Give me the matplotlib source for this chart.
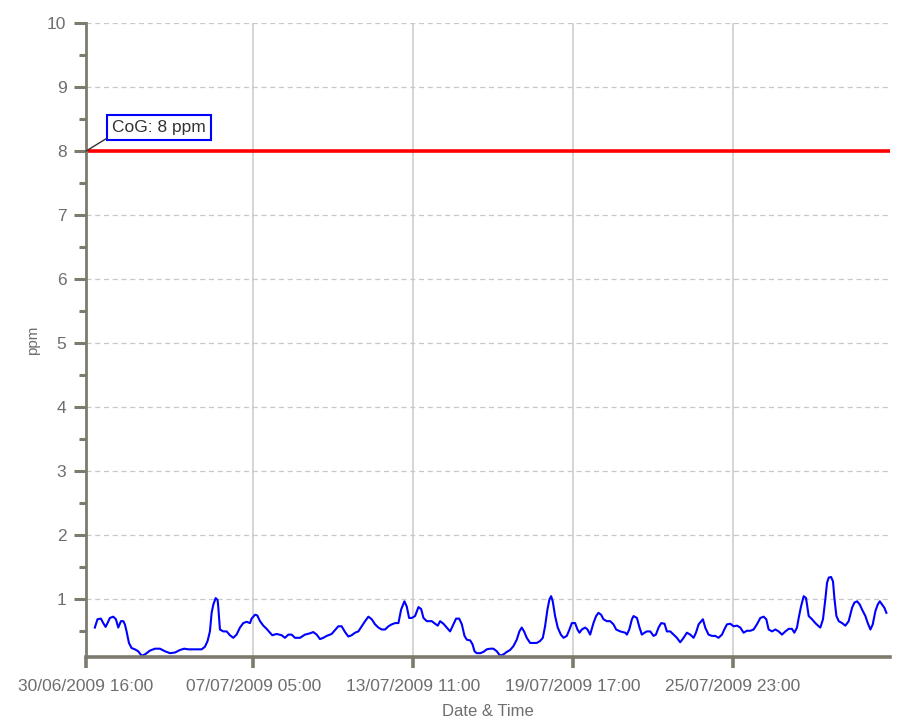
# -*- coding: utf-8 -*-

from datetime import datetime, timedelta
import matplotlib
matplotlib.use('Agg')
import matplotlib.pyplot as plt
import matplotlib.dates as mdates
from matplotlib.ticker import MultipleLocator, FixedLocator

plt.rcParams['font.family'] = ['Liberation Sans', 'DejaVu Sans']

# 数据：起始时间后的小时数 与 CO 浓度(ppm)
start = datetime(2009, 6, 30, 16, 0)
hours = [
    8.4, 10.9, 14.1, 16.3, 18.5, 20.3, 22.5, 25.7, 28.2, 30.4, 32.9, 35.1, 36.6, 38.2,
    40.4, 42.9, 46.0, 49.1, 52.3, 55.4, 60.1, 64.8, 69.5, 74.2, 78.9, 83.6, 88.3, 92.3,
    96.1, 102.3, 108.6, 111.7, 114.2, 116.4, 118.0, 119.6, 121.8, 123.6, 124.2,
    125.8, 128.9, 132.1, 135.2, 138.3, 141.4, 144.6, 147.7, 150.8, 154.0, 155.5, 158.7,
    160.8, 163.4, 166.5, 169.6, 172.8, 174.9, 179.0, 183.7, 186.8, 190.0, 193.1, 196.2,
    200.9, 205.6, 210.3, 213.4, 216.6, 219.7, 222.8, 226.0, 230.6, 233.8, 236.9, 240.0,
    243.2, 246.3, 249.4,
    252.6, 255.7, 258.9, 262.0, 265.1, 268.2, 271.4, 274.5, 277.6, 280.8, 283.9, 287.0,
    290.2, 293.3, 295.8, 298.9, 301.1, 303.3, 305.8, 308.9, 312.1, 314.6, 316.8, 319.9,
    324.6, 327.7, 330.2, 332.4, 335.5, 338.7, 341.8, 344.9, 347.4, 350.3, 352.8, 355.3,
    357.5, 360.6, 362.8, 364.7, 366.8, 370.0, 373.1, 376.2,
    379.3, 382.4, 385.6, 388.7, 391.8, 395.0, 398.1, 401.2, 404.3, 406.8, 409.0, 411.2,
    413.7, 416.9, 420.0, 423.1, 426.2, 428.8, 430.9, 433.1, 435.0, 436.6, 438.1, 440.3,
    442.8, 445.7, 448.2, 451.3, 453.8, 456.0, 459.1, 461.3, 463.2, 465.4, 468.5, 470.7,
    473.2, 476.3, 478.8, 481.0, 483.5, 485.7, 488.8, 492.0, 495.1, 497.6, 501.4,
    506.1, 507.7, 509.9, 512.4, 513.9, 517.1, 519.2, 521.7, 524.3, 526.4, 529.6, 532.7,
    534.9, 537.4, 539.9, 543.0, 545.2, 548.4, 551.5, 554.6, 557.7, 560.9, 564.0, 567.1,
    570.3, 572.5, 575.0, 577.5, 579.0, 581.2, 584.3, 587.5, 590.6, 593.7, 596.9, 599.1,
    601.6, 604.7, 607.8, 611.0, 614.1, 617.2, 620.3, 623.5, 626.6, 629.7,
    632.9, 636.0, 638.5, 640.7, 643.9, 647.0, 650.1, 653.2, 656.4, 659.5, 662.6, 664.8,
    667.3, 668.9, 671.1, 673.6, 675.8, 678.3, 681.4, 684.5, 687.7, 689.2, 691.7, 693.9,
    695.5, 697.1, 699.3, 701.1, 702.4, 704.3, 706.5, 709.6, 712.7, 715.8, 719.0, 721.2,
    723.7, 726.2, 728.4, 731.5, 733.7, 736.2, 738.4, 740.9, 743.1, 745.0, 747.2, 749.3,
    751.2,
]
ppm = [
    0.56, 0.69, 0.70, 0.63, 0.57, 0.63, 0.71, 0.73, 0.69, 0.56, 0.66, 0.66, 0.61, 0.50,
    0.32, 0.24, 0.22, 0.19, 0.12, 0.14, 0.20, 0.23, 0.23, 0.19, 0.16, 0.17, 0.21, 0.23,
    0.22, 0.22, 0.22, 0.26, 0.35, 0.50, 0.79, 0.92, 1.02, 0.99, 0.89,
    0.53, 0.50, 0.50, 0.44, 0.40, 0.45, 0.56, 0.63, 0.65, 0.63, 0.70, 0.76,
    0.75, 0.66, 0.59, 0.54, 0.48, 0.44, 0.46, 0.44, 0.40, 0.45, 0.45, 0.40,
    0.40, 0.45, 0.47, 0.49, 0.45, 0.38, 0.40, 0.43, 0.46, 0.52, 0.58, 0.58,
    0.49, 0.42, 0.44,
    0.48, 0.50, 0.58, 0.66, 0.73, 0.69, 0.61, 0.56, 0.53, 0.53, 0.58, 0.61,
    0.63, 0.63, 0.84, 0.97, 0.89, 0.71, 0.71, 0.74, 0.88, 0.85, 0.71, 0.66,
    0.66, 0.62, 0.59, 0.66, 0.62, 0.56, 0.50, 0.61, 0.70, 0.70, 0.61, 0.43,
    0.37, 0.36, 0.30, 0.19, 0.16, 0.16, 0.18, 0.22,
    0.23, 0.23, 0.19, 0.12, 0.14, 0.18, 0.21, 0.27, 0.37, 0.50, 0.56, 0.50,
    0.40, 0.32, 0.32, 0.32, 0.35, 0.40, 0.58, 0.84, 1.00, 1.05, 0.97, 0.74,
    0.56, 0.45, 0.40, 0.43, 0.53, 0.63, 0.63, 0.53, 0.48, 0.53, 0.56, 0.53,
    0.45, 0.63, 0.74, 0.79, 0.76, 0.69, 0.66, 0.66, 0.61, 0.53, 0.50,
    0.48, 0.45, 0.53, 0.69, 0.74, 0.71, 0.58, 0.45, 0.48, 0.50, 0.50, 0.43,
    0.45, 0.56, 0.63, 0.62, 0.50, 0.50, 0.45, 0.40, 0.33, 0.40, 0.48, 0.45,
    0.40, 0.48, 0.61, 0.66, 0.69, 0.56, 0.45, 0.43, 0.43, 0.40, 0.45, 0.53,
    0.61, 0.62, 0.58, 0.59, 0.56, 0.48, 0.51, 0.51, 0.53, 0.61,
    0.71, 0.73, 0.69, 0.53, 0.50, 0.53, 0.50, 0.45, 0.50, 0.54, 0.54, 0.48,
    0.56, 0.71, 0.89, 1.05, 1.02, 0.74, 0.69, 0.63, 0.58, 0.56, 0.69, 1.00,
    1.26, 1.34, 1.35, 1.28, 1.02, 0.74, 0.66, 0.63, 0.59, 0.66, 0.87, 0.95,
    0.97, 0.92, 0.84, 0.74, 0.63, 0.53, 0.61, 0.82, 0.92, 0.97, 0.92, 0.87,
    0.79,
]

tick_labels = ['30/06/2009 16:00', '07/07/2009 05:00', '13/07/2009 11:00',
               '19/07/2009 17:00', '25/07/2009 23:00']
end_hours = 755
limit_value = 8
limit_label = 'CoG: 8 ppm'

axis_color = '#7d7a6e'
text_color = '#6e6e6e'

times = [start + timedelta(hours=h) for h in hours]
tick_times = [datetime.strptime(s, '%d/%m/%Y %H:%M') for s in tick_labels]

fig = plt.figure(figsize=(9.04, 7.22), dpi=100, facecolor='white')
ax = fig.add_axes([0.095, 0.09, 0.89, 0.878])

ax.plot(times, ppm, color='#0000ff', linewidth=1.5, zorder=3)
ax.axhline(limit_value, color='#ff0000', linewidth=2.6, zorder=3)

ax.set_xlim(start, start + timedelta(hours=end_hours))
ax.set_ylim(0.1, 10)

# 坐标轴与刻度
ax.xaxis.set_major_locator(FixedLocator(mdates.date2num(tick_times)))
ax.xaxis.set_major_formatter(mdates.DateFormatter('%d/%m/%Y %H:%M'))
ax.yaxis.set_major_locator(MultipleLocator(1))
ax.yaxis.set_minor_locator(MultipleLocator(0.5))

for side in ['top', 'right']:
    ax.spines[side].set_visible(False)
ax.spines['left'].set_color(axis_color)
ax.spines['left'].set_linewidth(2)
ax.spines['bottom'].set_color(axis_color)
ax.spines['bottom'].set_linewidth(2.6)
ax.spines['left'].set_zorder(5)
ax.spines['bottom'].set_zorder(5)

ax.tick_params(axis='y', which='major', length=9, width=2.2, color=axis_color,
               labelcolor=text_color, labelsize=12.5, pad=5)
ax.tick_params(axis='y', which='minor', length=5, width=2.2, color=axis_color)
ax.tick_params(axis='x', which='major', length=8, width=2.6, color=axis_color,
               labelcolor=text_color, labelsize=12.5, pad=8)

ax.grid(axis='y', which='major', color='#c8c8c8', linestyle=(0, (4, 3)), linewidth=0.9)
ax.grid(axis='x', which='major', color='#d2d2d2', linestyle='-', linewidth=1.3)
ax.set_axisbelow(True)

ax.set_xlabel('Date & Time', fontsize=12, color=text_color, labelpad=7)
ax.set_ylabel('ppm', fontsize=11, color=text_color, labelpad=5)

# 限值标注
ax.annotate(limit_label, xy=(start, limit_value), xytext=(26, 16),
            textcoords='offset pixels', ha='left', va='bottom', fontsize=12.5,
            color='#333333', zorder=6,
            bbox=dict(boxstyle='square,pad=0.3', fc='white', ec='#0000ff', lw=1.5),
            arrowprops=dict(arrowstyle='-', color='#333333', lw=1,
                            shrinkA=0, shrinkB=0, relpos=(0, 0)))

fig.savefig('out.png', dpi=100, facecolor='white')
